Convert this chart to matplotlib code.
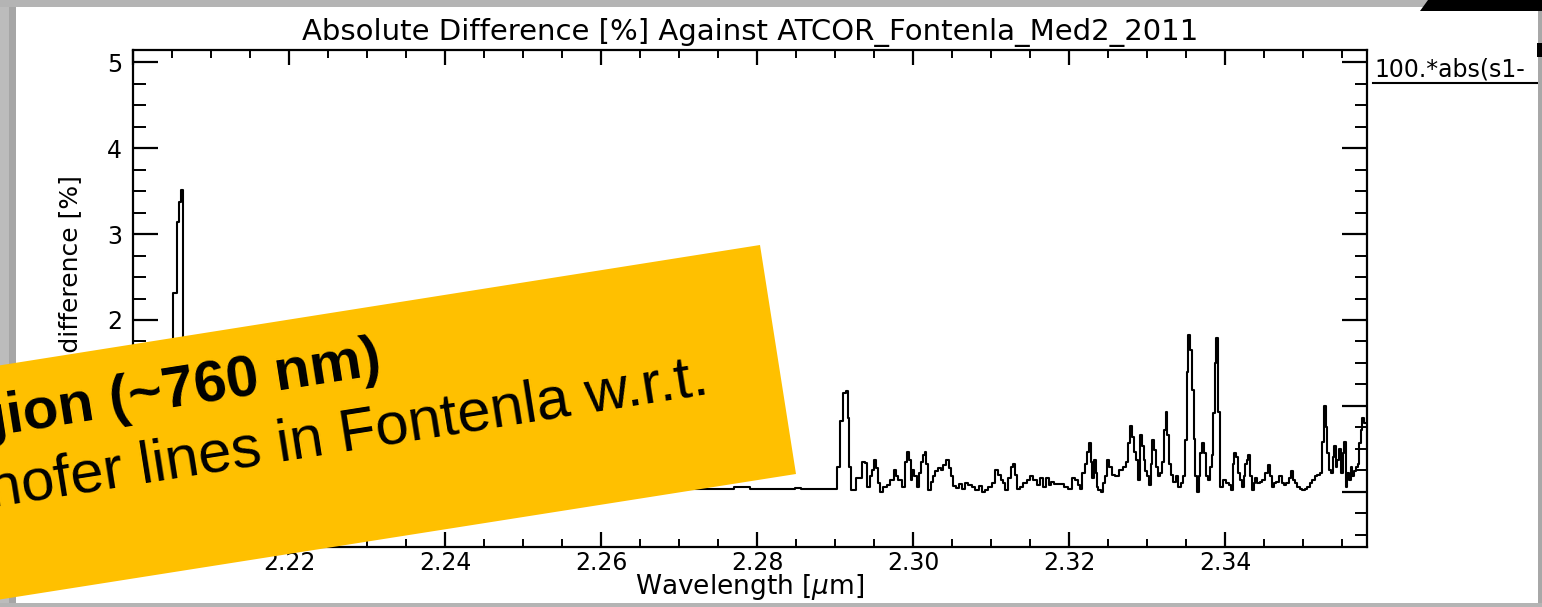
import matplotlib
matplotlib.use("Agg")
from matplotlib import pyplot as plt
from matplotlib.patches import Polygon, Rectangle
from matplotlib.ticker import MultipleLocator

# wavelength [um] / absolute difference [%]
# (the stretch hidden under the banner is kept near the baseline)
wavelength = [
    2.2000, 2.2022, 2.2047, 2.2055, 2.2058, 2.2060, 2.2063, 2.2065, 2.2069,
    2.2214, 2.2406, 2.2599, 2.2714, 2.2744, 2.2753, 2.2788, 2.2794, 2.2838,
    2.2842, 2.2855, 2.2859, 2.2880, 2.2900,
    2.2904, 2.2909, 2.2912, 2.2915, 2.2917, 2.2919, 2.2921, 2.2932, 2.2936,
    2.2940, 2.2943, 2.2946, 2.2949, 2.2951, 2.2953, 2.2956, 2.2960, 2.2964,
    2.2968, 2.2973, 2.2977, 2.2979, 2.2983, 2.2988, 2.2991, 2.2993, 2.2996,
    2.2998, 2.3000, 2.3003, 2.3006, 2.3009, 2.3012, 2.3014, 2.3016, 2.3018,
    2.3021, 2.3024, 2.3027, 2.3030, 2.3034, 2.3037, 2.3040, 2.3044, 2.3047,
    2.3050, 2.3053, 2.3057, 2.3061, 2.3065, 2.3069, 2.3073, 2.3077, 2.3082,
    2.3086, 2.3090, 2.3094, 2.3099, 2.3104, 2.3107, 2.3111, 2.3114, 2.3117,
    2.3120, 2.3123, 2.3127, 2.3129, 2.3132, 2.3135, 2.3139, 2.3144, 2.3148,
    2.3152, 2.3156, 2.3161, 2.3165, 2.3168, 2.3172, 2.3176, 2.3179, 2.3182,
    2.3191, 2.3197, 2.3201, 2.3206, 2.3210, 2.3213, 2.3216, 2.3218, 2.3222,
    2.3225, 2.3227, 2.3229, 2.3231, 2.3233, 2.3235, 2.3236, 2.3239, 2.3242,
    2.3245, 2.3247, 2.3250, 2.3253, 2.3256, 2.3261, 2.3268, 2.3271, 2.3274,
    2.3277, 2.3279, 2.3282, 2.3284, 2.3287, 2.3289, 2.3292, 2.3295, 2.3297,
    2.3299, 2.3302, 2.3304, 2.3306, 2.3308, 2.3310, 2.3312, 2.3315, 2.3318,
    2.3320, 2.3323, 2.3325, 2.3327, 2.3330, 2.3332, 2.3335, 2.3338, 2.3341,
    2.3345, 2.3347, 2.3350, 2.3352, 2.3354, 2.3356, 2.3359, 2.3361, 2.3363,
    2.3365, 2.3367, 2.3369, 2.3372, 2.3375, 2.3377, 2.3379, 2.3382, 2.3384,
    2.3386, 2.3388, 2.3390, 2.3393, 2.3395, 2.3400, 2.3403, 2.3406, 2.3409,
    2.3411, 2.3413, 2.3416, 2.3418, 2.3421, 2.3423, 2.3425, 2.3427, 2.3429,
    2.3431, 2.3433, 2.3436, 2.3438, 2.3440, 2.3443, 2.3446, 2.3449, 2.3453,
    2.3456, 2.3459, 2.3461, 2.3464, 2.3467, 2.3471, 2.3474, 2.3477, 2.3480,
    2.3483, 2.3486, 2.3488, 2.3491, 2.3494, 2.3497, 2.3500, 2.3504, 2.3507,
    2.3510, 2.3513, 2.3517, 2.3520, 2.3523, 2.3525, 2.3528, 2.3530, 2.3532,
    2.3535, 2.3537, 2.3539, 2.3541, 2.3543, 2.3545, 2.3547, 2.3550, 2.3552,
    2.3554, 2.3556, 2.3558, 2.3560, 2.3562, 2.3564, 2.3567, 2.3569, 2.3571,
    2.3573, 2.3575, 2.3577, 2.3579, 2.3582,
]
abs_diff = [
    0.04, 0.05, 0.06, 2.31, 3.14, 3.37, 3.51, 0.60, 0.08,
    0.05, 0.04, 0.05, 0.03, 0.04, 0.03, 0.055, 0.03, 0.04,
    0.03, 0.05, 0.03, 0.03, 0.03,
    0.29, 0.82, 1.15, 1.17, 0.86, 0.29, 0.02, 0.16, 0.35,
    0.34, 0.06, 0.18, 0.26, 0.37, 0.28, 0.10, 0.00, 0.06,
    0.08, 0.14, 0.26, 0.18, 0.14, 0.06, 0.35, 0.47, 0.37,
    0.14, 0.26, 0.18, 0.06, 0.22, 0.35, 0.43, 0.47, 0.33,
    0.02, 0.12, 0.18, 0.24, 0.28, 0.26, 0.31, 0.37, 0.28,
    0.18, 0.07, 0.05, 0.09, 0.03, 0.11, 0.08, 0.06, 0.02,
    0.07, 0.00, 0.02, 0.06, 0.10, 0.26, 0.20, 0.14, 0.10,
    0.02, 0.16, 0.29, 0.33, 0.20, 0.04, 0.06, 0.10, 0.14,
    0.18, 0.14, 0.08, 0.16, 0.06, 0.16, 0.08, 0.12, 0.09,
    0.09, 0.06, 0.04, 0.16, 0.14, 0.08, 0.04, 0.22, 0.33,
    0.47, 0.57, 0.35, 0.16, 0.37, 0.22, 0.06, 0.02, 0.00,
    0.10, 0.18, 0.37, 0.29, 0.20, 0.18, 0.26, 0.29, 0.35,
    0.57, 0.77, 0.64, 0.47, 0.37, 0.14, 0.66, 0.53, 0.37,
    0.24, 0.18, 0.08, 0.33, 0.60, 0.49, 0.29, 0.18, 0.22,
    0.35, 0.72, 0.93, 0.66, 0.33, 0.20, 0.12, 0.18, 0.06,
    0.10, 0.18, 0.60, 1.40, 1.83, 1.65, 1.19, 0.62, 0.18,
    0.00, 0.18, 0.45, 0.57, 0.45, 0.18, 0.14, 0.29, 0.43,
    0.92, 1.50, 1.79, 0.93, 0.06, 0.14, 0.10, 0.08, 0.02,
    0.33, 0.45, 0.41, 0.22, 0.14, 0.06, 0.18, 0.33, 0.37,
    0.43, 0.18, 0.02, 0.10, 0.16, 0.10, 0.12, 0.14, 0.22,
    0.31, 0.18, 0.06, 0.10, 0.12, 0.18, 0.10, 0.08, 0.10,
    0.16, 0.24, 0.14, 0.10, 0.06, 0.04, 0.02, 0.04, 0.06,
    0.10, 0.14, 0.18, 0.20, 0.22, 0.58, 1.00, 0.76, 0.45,
    0.26, 0.22, 0.41, 0.53, 0.29, 0.37, 0.50, 0.22, 0.45,
    0.58, 0.06, 0.22, 0.14, 0.29, 0.18, 0.24, 0.29, 0.33,
    0.57, 0.72, 0.86, 0.80, 0.80,
]

x_range = (2.2000, 2.3582)
y_range = (-0.64, 5.14)

title = "Absolute Difference [%] Against ATCOR_Fontenla_Med2_2011"
legend_label = "100.*abs(s1-"
banner_lines = ["Oxygen A-band region (~760 nm)",
                "Fraunhofer lines in Fontenla w.r.t."]

W, H = 1542, 607
fig = plt.figure(figsize=(W / 100, H / 100), dpi=100)
fig.patch.set_facecolor("white")

ax = fig.add_axes([133 / W, 1 - 547 / H, 1234 / W, 497 / H])
ax.step(wavelength, abs_diff, where="mid", color="black", lw=1.5)
ax.set_xlim(*x_range)
ax.set_ylim(*y_range)
ax.xaxis.set_major_locator(MultipleLocator(0.02))
ax.xaxis.set_minor_locator(MultipleLocator(0.005))
ax.yaxis.set_major_locator(MultipleLocator(1))
ax.yaxis.set_minor_locator(MultipleLocator(0.25))
ax.xaxis.set_major_formatter(plt.FuncFormatter(lambda v, p: f"{v:.2f}"))
ax.yaxis.set_major_formatter(plt.FuncFormatter(lambda v, p: f"{v:.0f}"))
for s in ax.spines.values():
    s.set_linewidth(1.6)
ax.tick_params(axis="x", which="major", direction="in", top=True,
               length=11, width=1.6, labelsize=17, pad=3)
ax.tick_params(axis="x", which="minor", direction="in", top=True,
               length=6, width=1.4)
ax.tick_params(axis="y", which="major", direction="in", right=True,
               length=18, width=1.6, labelsize=17, pad=8)
ax.tick_params(axis="y", which="minor", direction="in", right=True,
               length=9, width=1.4)
ax.set_title(title, fontsize=21, pad=7)
ax.set_xlabel("Wavelength [$\\mu$m]", fontsize=19, labelpad=-2)
fig.text(70 / W, 1 - 323 / H, "Absolute difference [%]", rotation=90,
         ha="center", va="center", fontsize=18)

# overlay in pixel space for the slide bits around the plot
ov = fig.add_axes([0, 0, 1, 1], zorder=10)
ov.set_xlim(0, W)
ov.set_ylim(H, 0)
ov.axis("off")
ov.patch.set_alpha(0)

ov.text(1374, 70, legend_label, fontsize=17, ha="left", va="center")
ov.plot([1373, W], [83, 83], color="black", lw=1.5)

# screenshot frame
ov.add_patch(Rectangle((0, 0), 9, H, color="#bcbcbc", lw=0, zorder=2))
ov.add_patch(Rectangle((9, 0), 7, H, color="#a6a6a6", lw=0, zorder=2))
ov.add_patch(Rectangle((0, 0), W, 7, color="#b4b4b4", lw=0, zorder=2))
ov.add_patch(Rectangle((1538, 0), 4, H, color="#a8a8a8", lw=0, zorder=2))
ov.add_patch(Rectangle((0, 603), W, 4, color="#b4b4b4", lw=0, zorder=2))
ov.add_patch(Polygon([(1420, 11), (1428, 0), (W, 0), (W, 11)],
                     color="black", lw=0, zorder=3))
ov.add_patch(Rectangle((1537, 43), 5, 14, color="black", lw=0, zorder=3))

# orange banner laid over the plot
ov.add_patch(Polygon([(-200, 397), (760, 245), (796, 474), (-200, 631)],
                     closed=True, facecolor="#FFC000", edgecolor="none",
                     zorder=5, clip_on=False))
ov.text(383, 374, banner_lines[0], fontsize=42, fontweight="bold",
        family="Liberation Sans", rotation=9, rotation_mode="anchor",
        ha="right", va="baseline", zorder=6, clip_on=False)
ov.text(710, 393, banner_lines[1], fontsize=43,
        family="Liberation Sans", rotation=9, rotation_mode="anchor",
        ha="right", va="baseline", zorder=6, clip_on=False)

fig.savefig("out.png", dpi=100)
